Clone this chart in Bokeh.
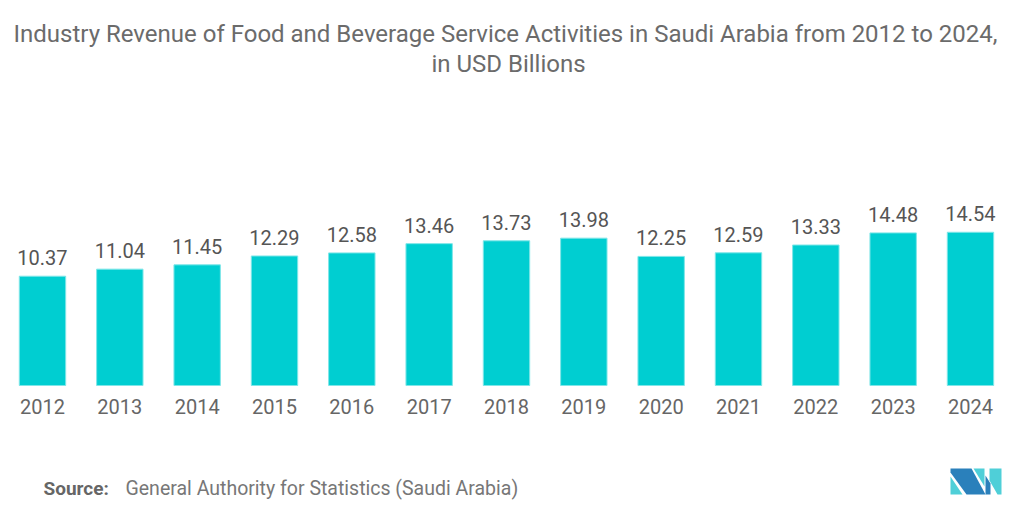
from bokeh.plotting import figure
from bokeh.models import ColumnDataSource, Range1d, LabelSet, Label, PolyAnnotation
from bokeh.core.properties import value
from bokeh.embed import file_html
from bokeh.resources import INLINE

years = ["2012", "2013", "2014", "2015", "2016", "2017", "2018",
         "2019", "2020", "2021", "2022", "2023", "2024"]
revenue = [10.37, 11.04, 11.45, 12.29, 12.58, 13.46, 13.73,
           13.98, 12.25, 12.59, 13.33, 14.48, 14.54]
title_lines = ["Industry Revenue of Food and Beverage Service Activities in Saudi Arabia from 2012 to 2024,",
               "in USD Billions"]
source_label = "Source:"
source_text = "General Authority for Statistics (Saudi Arabia)"

W, H = 1016, 508
FONT = "Roboto"

idx = list(range(len(years)))
src = ColumnDataSource(dict(x=idx, top=revenue, base=[0] * len(years), year=years,
                            label=[f"{v:.2f}" for v in revenue]))

# frame covers the whole canvas; baseline (0) sits 123px above the bottom
p = figure(width=W, height=H, output_backend="svg", toolbar_location=None,
           x_range=Range1d(-0.543, 12.595), y_range=Range1d(-11.67, 36.53),
           x_axis_location=None, y_axis_location=None,
           min_border=0)
p.title.visible = False
p.outline_line_color = None
p.xgrid.visible = False
p.ygrid.visible = False
p.background_fill_color = "white"
p.border_fill_color = "white"

p.vbar(x="x", top="top", width=0.6, bottom=0, source=src,
       fill_color="#00CED1", line_color="#7fe6e8", line_width=1)

# value labels above bars
p.add_layout(LabelSet(x="x", y="top", text="label", source=src, text_align="center",
                      text_baseline="alphabetic", y_offset=11, text_font=value(FONT),
                      text_font_size="20px", text_color="#555555"))
# category (year) labels below the baseline
p.add_layout(LabelSet(x="x", y="base", text="year", source=src, text_align="center",
                      text_baseline="alphabetic", y_offset=-28, text_font=value(FONT),
                      text_font_size="20px", text_color="#666666"))


def sy(page_y):
    # screen units are measured up from the frame (canvas) bottom
    return H - page_y


def sx(page_x):
    return page_x


p.add_layout(Label(x=sx(505), y=sy(33), x_units="screen", y_units="screen", text=title_lines[0],
                   text_align="center", text_baseline="middle", text_font=FONT,
                   text_font_size="24px", text_color="#6b6b6b"))
p.add_layout(Label(x=sx(508), y=sy(63), x_units="screen", y_units="screen", text=title_lines[1],
                   text_align="center", text_baseline="middle", text_font=FONT,
                   text_font_size="24px", text_color="#6b6b6b"))
p.add_layout(Label(x=sx(43), y=sy(488), x_units="screen", y_units="screen", text=source_label,
                   text_align="left", text_baseline="middle", text_font=FONT, text_font_style="bold",
                   text_font_size="19px", text_color="#666666"))
p.add_layout(Label(x=sx(125), y=sy(488), x_units="screen", y_units="screen", text=source_text,
                   text_align="left", text_baseline="middle", text_font=FONT,
                   text_font_size="19.5px", text_color="#777777"))

BLUE = "#2a80bb"
CYAN = "#4fcfd8"
logo = [
    ([950, 950, 962], [476, 494, 494], CYAN),
    ([950, 971, 985, 966, 950], [468, 468, 494, 494, 472], BLUE),
    ([973, 984, 984], [468, 468, 486], CYAN),
    ([985, 990, 990, 985], [475, 483, 494, 494], BLUE),
    ([989, 1001, 1001, 997, 989], [468, 468, 494, 494, 480], CYAN),
]
for xs, ys, c in logo:
    p.add_layout(PolyAnnotation(xs=[sx(v) for v in xs], ys=[sy(v) for v in ys],
                                xs_units="screen", ys_units="screen",
                                fill_color=c, fill_alpha=1, line_color=None))

open("out.html", "w").write(file_html(p, INLINE))
